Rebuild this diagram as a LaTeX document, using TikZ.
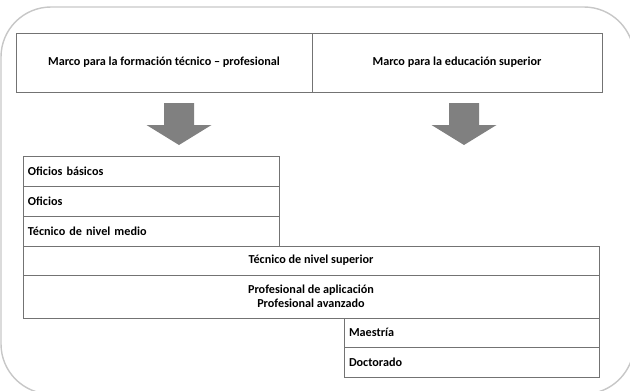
\documentclass[tikz,border=0pt]{standalone}
\usepackage{fontspec}
\setmainfont{Carlito}
\usetikzlibrary{positioning}

\newcommand{\px}{0.03cm}

\begin{document}
\begin{tikzpicture}[
    x=0.03cm, y=-0.03cm,
    frame/.style={draw=black!55, line width=0.6pt, inner sep=0pt,
                  font=\fontsize{10.4}{12.4}\selectfont\bfseries},
    lbox/.style={frame, align=left, inner xsep=5*\px},
    cbox/.style={frame, align=center},
    blockarrow/.style={fill=black!50}
  ]
  \useasboundingbox (0,0) rectangle (630,391);
  \clip (0,0) rectangle (630,391);

  % Outer frame
  \draw[black!22, line width=1.2pt, rounded corners=1.5cm] (1,7) rectangle (634,394);

  % Frameworks
  \node[cbox, minimum width=296*\px, minimum height=59*\px] (tp) at (164,62.5)
    {Marco para la formación técnico -- profesional};
  \node[cbox, minimum width=290*\px, minimum height=59*\px] (es) at (457,62.5)
    {Marco para la educación superior};

  % Arrows
  \foreach \cx in {179,464} {
    \fill[blockarrow] (\cx-15,103) -- (\cx+15,103) -- (\cx+15,125) -- (\cx+32.5,125)
      -- (\cx,145) -- (\cx-32.5,125) -- (\cx-15,125) -- cycle;
  }

  % Levels
  \node[lbox, text width=246*\px, minimum height=30*\px] (ob) at (151,171) {Oficios básicos};
  \node[lbox, text width=246*\px, minimum height=30*\px] (of) at (151,201) {Oficios};
  \node[lbox, text width=246*\px, minimum height=30*\px] (tm) at (151,231) {Técnico de nivel medio};
  \node[cbox, minimum width=576*\px, minimum height=29*\px] (ts) at (311,260.5) {Técnico de nivel superior};
  \node[cbox, minimum width=576*\px, minimum height=43*\px] (pa) at (311,296.5)
    {Profesional de aplicación\\Profesional avanzado};
  \node[lbox, text width=245*\px, minimum height=29*\px] (ma) at (471.5,332.5) {Maestría};
  \node[lbox, text width=245*\px, minimum height=30*\px] (dr) at (471.5,362) {Doctorado};
\end{tikzpicture}
\end{document}
